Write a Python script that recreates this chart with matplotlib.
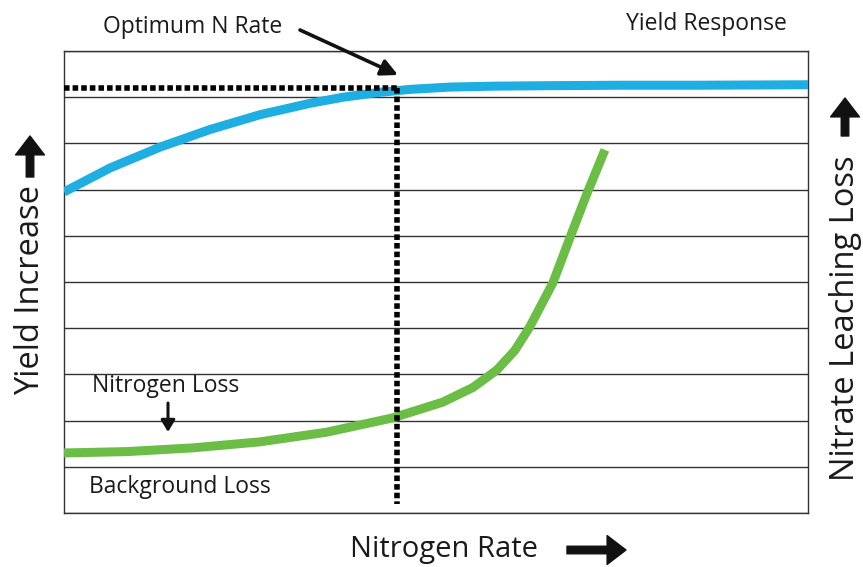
import matplotlib.pyplot as plt

plt.rcParams['font.family'] = ['Open Sans', 'DejaVu Sans']

# nitrogen rate (0-100, arbitrary) and curve heights (0-10, arbitrary)
yield_x = [0, 6.2, 12.9, 19.6, 26.3, 33.1, 37.5, 42.1, 46.5, 51.9, 58.0, 65.3, 75.0, 85.5, 100]
yield_y = [6.95, 7.47, 7.92, 8.30, 8.62, 8.87, 9.00, 9.10, 9.17, 9.22, 9.24, 9.25, 9.26, 9.26, 9.27]

loss_x = [0, 8.5, 17.3, 26.3, 35.3, 44.2, 50.9, 55.0, 58.2, 60.6, 62.6, 65.7, 68.0, 70.3, 72.7]
loss_y = [1.30, 1.33, 1.41, 1.54, 1.75, 2.06, 2.40, 2.72, 3.10, 3.52, 4.03, 4.98, 5.96, 6.92, 7.86]

optimum_x = 44.8
optimum_y = 9.2
grid_levels = list(range(0, 11))

text_col = "#1a1a1a"


def main():
    fig = plt.figure(figsize=(8.63, 5.67), dpi=100)
    ax = fig.add_axes([0.0742, 0.0952, 0.8621, 0.8148])

    for g in grid_levels:
        ax.axhline(g, color="#333333", lw=1.0, zorder=1)

    ax.plot(yield_x, yield_y, color="#1faee2", lw=6.5, solid_capstyle="butt",
            solid_joinstyle="round", zorder=3)
    ax.plot(loss_x, loss_y, color="#6cbd45", lw=6.5, solid_capstyle="butt",
            solid_joinstyle="round", zorder=3)

    dots = (0, (1, 0.55))
    ax.plot([0, optimum_x], [optimum_y, optimum_y], color="black", lw=4,
            linestyle=dots, zorder=4)
    ax.plot([optimum_x, optimum_x], [optimum_y, 0.2], color="black", lw=4,
            linestyle=dots, zorder=4)

    ax.set_xlim(0, 100)
    ax.set_ylim(0, 10)
    ax.set_xticks([])
    ax.set_yticks([])
    for s in ax.spines.values():
        s.set_color("#333333")
        s.set_linewidth(1.0)

    # annotations (figure pixel coordinates -> fraction)
    W, H = 863.0, 567.0

    def fx(px):
        return px / W

    def fy(py):
        return 1 - py / H

    fig.text(fx(193), fy(27), "Optimum N Rate", ha="center", va="center",
             fontsize=16.5, color=text_col)
    fig.text(fx(787), fy(24), "Yield Response", ha="right", va="center",
             fontsize=16.5, color=text_col)
    fig.text(fx(92), fy(386), "Nitrogen Loss", ha="left", va="center",
             fontsize=16.5, color=text_col)
    fig.text(fx(89), fy(487), "Background Loss", ha="left", va="center",
             fontsize=16.5, color=text_col)
    fig.text(fx(444), fy(549), "Nitrogen Rate", ha="center", va="center",
             fontsize=21, color=text_col)
    fig.text(fx(31), fy(290), "Yield Increase", ha="center", va="center",
             fontsize=23.5, color=text_col, rotation=90)
    fig.text(fx(845), fy(318), "Nitrate Leaching Loss", ha="center", va="center",
             fontsize=23.5, color=text_col, rotation=90)

    arrow = dict(arrowstyle="-|>,head_length=0.5,head_width=0.25", color="#111111",
                 lw=2.6, mutation_scale=20, shrinkA=0, shrinkB=0)
    plt.annotate("", xy=(fx(398), fy(75)), xytext=(fx(300), fy(30)),
                 xycoords="figure fraction", arrowprops=arrow)
    small = dict(arrowstyle="-|>,head_length=0.5,head_width=0.3", color="#111111",
                 lw=2.2, mutation_scale=14, shrinkA=0, shrinkB=0)
    plt.annotate("", xy=(fx(168), fy(432)), xytext=(fx(168), fy(403)),
                 xycoords="figure fraction", arrowprops=small)
    big = dict(arrowstyle="simple,head_width=1.3,head_length=0.85,tail_width=0.34",
               color="#111111", mutation_scale=16, shrinkA=0, shrinkB=0)
    plt.annotate("", xy=(fx(626), fy(550)), xytext=(fx(567), fy(550)),
                 xycoords="figure fraction", arrowprops=big)
    plt.annotate("", xy=(fx(30), fy(136)), xytext=(fx(30), fy(177)),
                 xycoords="figure fraction", arrowprops=big)
    plt.annotate("", xy=(fx(845), fy(98)), xytext=(fx(845), fy(136)),
                 xycoords="figure fraction", arrowprops=big)

    fig.savefig("out.png", dpi=100)


if __name__ == "__main__":
    main()
